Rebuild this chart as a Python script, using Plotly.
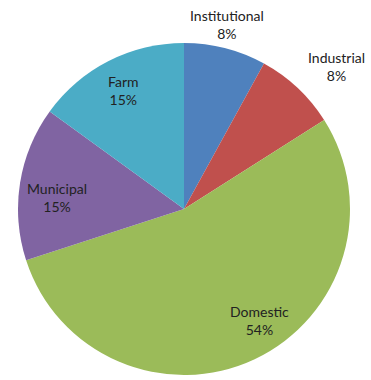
import math
import plotly.graph_objects as go

labels = ["Institutional", "Industrial", "Domestic", "Municipal", "Farm"]
values = [8, 8, 54, 15, 15]
colors = ["#4F81BD", "#C0504D", "#9BBB59", "#8064A2", "#4BACC6"]

# label placement style (radius factor, angular nudge in degrees)
label_radius = [1.14, 1.26, 0.81, 0.77, 0.80]
label_nudge = [-1.2, 3.7, -9.0, -4.0, 0.0]

W, H = 371, 380
dom_x = [0.0485, 0.9434]
dom_y = [0.013, 0.887]

fig = go.Figure(go.Pie(
    labels=labels,
    values=values,
    sort=False,
    direction="clockwise",
    rotation=0,
    marker=dict(colors=colors, line=dict(width=0)),
    textinfo="none",
    showlegend=False,
    hoverinfo="label+percent",
    domain=dict(x=dom_x, y=dom_y),
))

# pie geometry in pixels (from the domain)
cx = (dom_x[0] + dom_x[1]) / 2 * W
cy = (dom_y[0] + dom_y[1]) / 2 * H
r = min((dom_x[1] - dom_x[0]) * W, (dom_y[1] - dom_y[0]) * H) / 2

total = sum(values)
cum = 0
annotations = []
for lab, v, rf, nd in zip(labels, values, label_radius, label_nudge):
    mid = (cum + v / 2) / total * 360 + nd
    cum += v
    a = math.radians(mid)
    px = cx + rf * r * math.sin(a)
    py = cy + rf * r * math.cos(a)
    pct = round(v / total * 100)
    annotations.append(dict(
        x=px / W, y=py / H, xref="paper", yref="paper",
        text=f"{lab}<br>{pct}%", showarrow=False,
        xanchor="center", yanchor="middle",
        font=dict(family="Lato", size=14, color="#222222"),
    ))

fig.update_layout(
    width=W, height=H,
    margin=dict(l=0, r=0, t=0, b=0),
    paper_bgcolor="white",
    plot_bgcolor="white",
    annotations=annotations,
)

fig.write_html("out.html")
